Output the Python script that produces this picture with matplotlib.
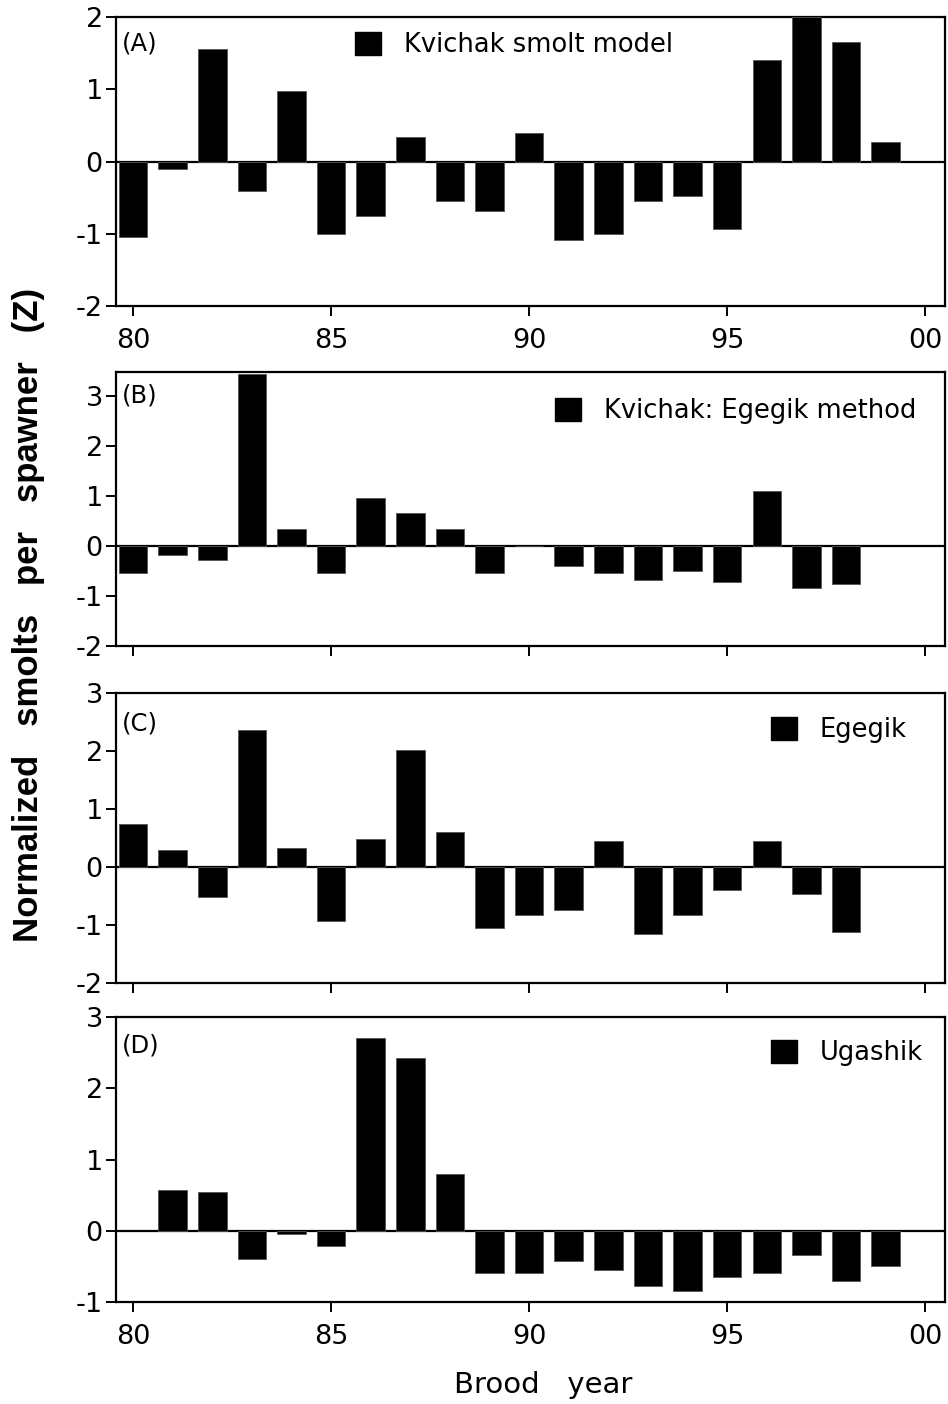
import numpy as np
import matplotlib.pyplot as plt
from matplotlib.patches import Patch

plt.rcParams["font.family"] = ["DejaVu Sans"]

# brood years (two-digit)
years_a = list(range(80, 100))
years_b = list(range(80, 99))
years_c = list(range(80, 99))
years_d = list(range(81, 100))

# normalized smolts per spawner (Z)
kvichak_model = [-1.05, -0.10, 1.56, -0.41, 0.97, -1.00, -0.75, 0.34, -0.54, -0.69,
                 0.39, -1.09, -1.00, -0.54, -0.48, -0.94, 1.40, 2.00, 1.65, 0.27]
kvichak_egegik = [-0.55, -0.19, -0.28, 3.44, 0.33, -0.55, 0.95, 0.65, 0.33, -0.55,
                  -0.01, -0.41, -0.55, -0.68, -0.51, -0.73, 1.09, -0.85, -0.76]
egegik = [0.75, 0.29, -0.51, 2.36, 0.33, -0.93, 0.49, 2.01, 0.60, -1.05,
          -0.82, -0.74, 0.44, -1.16, -0.82, -0.39, 0.44, -0.47, -1.12]
ugashik = [0.57, 0.54, -0.40, -0.05, -0.21, 2.70, 2.42, 0.79, -0.59, -0.59,
           -0.43, -0.55, -0.77, -0.84, -0.65, -0.59, -0.34, -0.71, -0.49]

xticks = [80, 85, 90, 95, 100]
xticklabels = ["80", "85", "90", "95", "00"]

W, H = 948, 1404
fig = plt.figure(figsize=(W / 100, H / 100), dpi=100)


def add_panel(top, bottom, left=116, right=945):
    return fig.add_axes([left / W, 1 - bottom / H, (right - left) / W, (bottom - top) / H])


panels = [
    # top, bottom, years, values, ylim, yticks, tag, tag y, legend label, legend x, legend y, x labels
    (17, 306, years_a, kvichak_model, (-2, 2), [-2, -1, 0, 1, 2],
     "(A)", 43, "Kvichak smolt model", 355, 45, True),
    (372, 646, years_b, kvichak_egegik, (-2, 3.47), [-2, -1, 0, 1, 2, 3],
     "(B)", 395, "Kvichak: Egegik method", 555, 411, False),
    (693, 983, years_c, egegik, (-2, 3), [-2, -1, 0, 1, 2, 3],
     "(C)", 724, "Egegik", 771, 730, False),
    (1017, 1302, years_d, ugashik, (-1, 3), [-1, 0, 1, 2, 3],
     "(D)", 1045, "Ugashik", 771, 1053, True),
]

fs_tick = 19.5
fs_leg = 18.5
for top, bottom, yrs, vals, ylim, yticks, tag, tag_y, label, leg_x, leg_y, show_x in panels:
    ax = add_panel(top, bottom)
    ax.bar(yrs, vals, width=0.72, color="black", edgecolor="#555555", linewidth=0.6, zorder=3)
    ax.axhline(0, color="black", lw=1.6, zorder=2)
    ax.set_xlim(79.57, 100.5)
    ax.set_ylim(*ylim)
    ax.set_yticks(yticks)
    ax.set_yticklabels([str(t) for t in yticks], fontsize=fs_tick)
    ax.set_xticks(xticks)
    if show_x:
        ax.set_xticklabels(xticklabels, fontsize=fs_tick)
    else:
        ax.set_xticklabels([])
    for s in ax.spines.values():
        s.set_linewidth(1.6)
    ax.tick_params(axis="both", direction="out", length=7.5, width=1.4)
    ax.tick_params(axis="x", pad=8)
    ax.tick_params(axis="y", pad=2)

    h = bottom - top
    ax.text((122 - 116) / 829, 1 - (tag_y - top) / h, tag, transform=ax.transAxes,
            fontsize=17.5, va="center", ha="left")

    # single-entry legend with a black square key
    ax.legend(handles=[Patch(facecolor="black", edgecolor="black")], labels=[label],
              loc="center left", bbox_to_anchor=((leg_x - 116) / 829, 1 - (leg_y - top) / h),
              frameon=False, fontsize=fs_leg, borderpad=0, borderaxespad=0,
              handlelength=1.0, handleheight=1.0, handletextpad=0.9)

fig.text(29 / W, 1 - 615 / H, "Normalized   smolts   per   spawner   (Z)", rotation=90,
         fontsize=25, fontweight="bold", family=["Liberation Sans", "DejaVu Sans"],
         ha="center", va="center")
fig.text(543 / W, 1 - 1385 / H, "Brood   year", fontsize=21, ha="center", va="center")

fig.savefig("out.png", dpi=100)
